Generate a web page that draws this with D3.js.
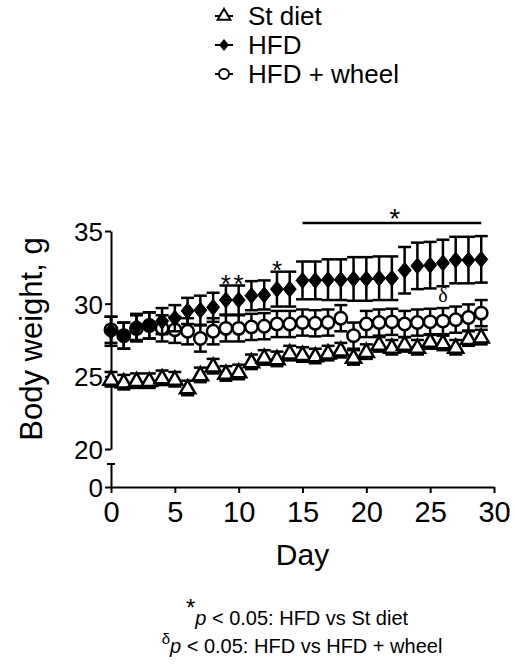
<!DOCTYPE html>
<html>
  <head>
    <meta charset="utf-8" />
    <title>Body weight</title>
    <script src="https://d3js.org/d3.v7.min.js"></script>
    <style type="text/css">
      body { margin: 0; background: white; }
      text { font-family: "Liberation Sans", Arial, sans-serif; fill: black; }
    </style>
  </head>
  <body>
    <div id="chart"></div>
    <script type="text/javascript">
      // data (mean, SEM)
      var days = [0,1,2,3,4,5,6,7,8,9,10,11,12,13,14,15,16,17,18,19,20,21,22,23,24,25,26,27,28,29];
      var stDiet = [24.8,24.6,24.7,24.7,24.9,24.8,24.2,25.1,25.7,25.2,25.3,26.0,26.3,26.2,26.6,26.5,26.4,26.6,26.8,26.3,26.7,27.2,27.0,27.2,27.0,27.4,27.3,27.0,27.6,27.7];
      var stSem  = [0.5,0.5,0.5,0.5,0.5,0.5,0.5,0.5,0.5,0.5,0.5,0.5,0.5,0.5,0.5,0.5,0.5,0.5,0.5,0.5,0.5,0.5,0.5,0.5,0.5,0.5,0.5,0.5,0.5,0.5];
      var hfd    = [28.1,27.8,28.4,28.5,28.8,29.0,29.5,29.55,29.75,30.25,30.25,30.55,30.6,31.0,31.0,31.6,31.6,31.65,31.65,31.7,31.7,31.75,31.75,32.3,32.6,32.65,32.8,33.0,33.0,33.05];
      var hfdSem = [1.0,0.9,0.9,0.9,0.9,0.9,0.9,1.0,1.0,1.0,1.0,1.0,1.0,1.2,1.2,1.3,1.3,1.4,1.4,1.5,1.5,1.5,1.5,1.6,1.6,1.6,1.6,1.6,1.6,1.6];
      var wheel    = [28.2,27.8,28.3,28.5,28.3,28.2,28.1,27.6,28.1,28.3,28.3,28.4,28.45,28.6,28.6,28.7,28.65,28.7,29.0,27.8,28.6,28.7,28.75,28.6,28.7,28.75,28.8,28.9,29.05,29.35];
      var wheelSem = [0.9,0.9,0.9,0.9,0.9,0.9,0.9,0.9,0.9,0.9,0.9,0.9,0.9,0.9,0.9,0.9,0.9,0.9,0.9,0.9,0.9,0.9,0.9,0.9,0.9,0.9,0.9,0.9,0.9,0.9];
      var yTicks = [20, 25, 30, 35];
      var xTicks = [0, 5, 10, 15, 20, 25, 30];
      var starDays = [9, 10, 13];     // * HFD vs St diet (single days)
      var starRange = [15, 29];       // * HFD vs St diet (bar)
      var deltaDays = [26];           // δ HFD vs HFD + wheel
      var legendNames = ["St diet", "HFD", "HFD + wheel"];

      var width = 513, height = 665;
      var svg = d3.select("#chart").append("svg")
          .attr("width", width)
          .attr("height", height);

      var x = d3.scaleLinear().domain([0, 30]).range([111, 494]);
      var y = d3.scaleLinear().domain([20, 35]).range([449, 231]);
      var yLow = d3.scaleLinear().domain([0, 1]).range([487, 464]);

      // y axis, upper part
      var yAxis = svg.append("g")
          .attr("transform", "translate(" + x(0) + ",0)")
          .call(d3.axisLeft(y).tickValues(yTicks).tickSize(6).tickSizeOuter(0));
      yAxis.selectAll("text").style("font-size", "26px").attr("dx", "1px").attr("dy", "0.36em");
      // lower part, below the break
      var yAxis2 = svg.append("g")
          .attr("transform", "translate(" + x(0) + ",0)")
          .call(d3.axisLeft(yLow).tickValues([0]).tickFormat(d3.format("d")).tickSize(6).tickSizeOuter(0));
      yAxis2.selectAll("text").style("font-size", "26px").attr("dx", "1px").attr("dy", "0.36em");
      svg.append("line")
          .attr("x1", x(0) - 4).attr("x2", x(0) + 4)
          .attr("y1", yLow(1)).attr("y2", yLow(1))
          .attr("stroke", "black").attr("stroke-width", 2);

      var xAxis = svg.append("g")
          .attr("transform", "translate(0," + yLow(0) + ")")
          .call(d3.axisBottom(x).tickValues(xTicks).tickSize(6).tickSizeOuter(0));
      xAxis.selectAll("text").style("font-size", "29px").attr("dy", "0.9em");

      svg.selectAll(".domain, .tick line").attr("stroke", "black").attr("stroke-width", 2);

      svg.append("text")
          .attr("transform", "translate(42," + ((y(35) + yLow(0)) / 2 - 20) + ") rotate(-90)")
          .attr("text-anchor", "middle")
          .style("font-size", "31px")
          .text("Body weight, g");

      svg.append("text")
          .attr("x", (x(0) + x(30)) / 2)
          .attr("y", 565)
          .attr("text-anchor", "middle")
          .style("font-size", "30px")
          .text("Day");

      // markers
      var triangle = d3.symbol().type(d3.symbolTriangle).size(100);
      var diamond = "M0,-8L6.5,0L0,8L-6.5,0Z";

      function errorBars(vals, sems, cap) {
        var g = svg.append("g").attr("stroke", "black").attr("stroke-width", 2.5);
        days.forEach(function(d, i) {
          var x0 = x(d), top = y(vals[i] + sems[i]), bot = y(vals[i] - sems[i]);
          g.append("line").attr("x1", x0).attr("x2", x0).attr("y1", top).attr("y2", bot);
          g.append("line").attr("x1", x0 - cap).attr("x2", x0 + cap).attr("y1", top).attr("y2", top);
          g.append("line").attr("x1", x0 - cap).attr("x2", x0 + cap).attr("y1", bot).attr("y2", bot);
        });
      }

      errorBars(stDiet, stSem, 6.5);
      svg.append("g").selectAll("path")
          .data(days)
          .enter().append("path")
          .attr("d", triangle)
          .attr("transform", function(d, i) { return "translate(" + x(d) + "," + (y(stDiet[i]) + 1) + ")"; })
          .attr("fill", "white").attr("stroke", "black").attr("stroke-width", 2.5);

      errorBars(wheel, wheelSem, 6.5);
      svg.append("g").selectAll("circle")
          .data(days)
          .enter().append("circle")
          .attr("cx", function(d) { return x(d); })
          .attr("cy", function(d, i) { return y(wheel[i]); })
          .attr("r", 6.2)
          .attr("fill", "white").attr("stroke", "black").attr("stroke-width", 2.5);

      errorBars(hfd, hfdSem, 6.5);
      svg.append("g").selectAll("path")
          .data(days)
          .enter().append("path")
          .attr("d", diamond)
          .attr("transform", function(d, i) { return "translate(" + x(d) + "," + y(hfd[i]) + ")"; })
          .attr("fill", "black").attr("stroke", "black").attr("stroke-width", 1);

      // significance marks
      svg.selectAll(".star")
          .data(starDays)
          .enter().append("text")
          .attr("x", function(d) { return x(d); })
          .attr("y", function(d) { return y(hfd[d] + hfdSem[d]) + 7; })
          .attr("text-anchor", "middle")
          .style("font-size", "26px")
          .text("*");
      svg.append("line")
          .attr("x1", x(starRange[0])).attr("x2", x(starRange[1]))
          .attr("y1", 223).attr("y2", 223)
          .attr("stroke", "black").attr("stroke-width", 2.5);
      svg.append("text")
          .attr("x", (x(starRange[0]) + x(starRange[1])) / 2 + 3)
          .attr("y", 228)
          .attr("text-anchor", "middle")
          .style("font-size", "27px")
          .text("*");
      svg.selectAll(".delta")
          .data(deltaDays)
          .enter().append("text")
          .attr("x", function(d) { return x(d); })
          .attr("y", function(d) { return y(wheel[d] + wheelSem[d]) - 6; })
          .attr("text-anchor", "middle")
          .style("font-family", "'Liberation Serif', serif")
          .style("font-size", "20px")
          .text("δ");

      // legend
      var legend = svg.append("g");
      legendNames.forEach(function(name, i) {
        var cy = 16 + i * 29;
        var row = legend.append("g").attr("transform", "translate(224," + cy + ")");
        row.append("line").attr("x1", -9).attr("x2", 9).attr("stroke", "black").attr("stroke-width", 2);
        if (i == 0) {
          row.append("path").attr("d", d3.symbol().type(d3.symbolTriangle).size(70)).attr("fill", "white").attr("stroke", "black").attr("stroke-width", 2);
        } else if (i == 1) {
          row.append("path").attr("d", diamond).attr("fill", "black").attr("transform", "scale(0.75)");
        } else {
          row.append("circle").attr("r", 5).attr("fill", "white").attr("stroke", "black").attr("stroke-width", 2);
        }
        row.append("text").attr("x", 24).attr("dy", "0.36em").style("font-size", "26px").text(name);
      });

      // footnotes
      var foot = [["*", "p", " < 0.05: HFD vs St diet"], ["δ", "p", " < 0.05: HFD vs HFD + wheel"]];
      foot.forEach(function(f, i) {
        var t = svg.append("text")
            .attr("x", i == 0 ? 297 : 302).attr("y", 627 + i * 24)
            .attr("text-anchor", "middle")
            .style("font-size", "20px");
        t.append("tspan").attr("dy", "-0.45em").style("font-size", i == 0 ? "24px" : "15px").text(f[0]);
        t.append("tspan").attr("dy", "0.45em").style("font-style", "italic").text(f[1]);
        t.append("tspan").text(f[2]);
      });
    </script>
  </body>
</html>
